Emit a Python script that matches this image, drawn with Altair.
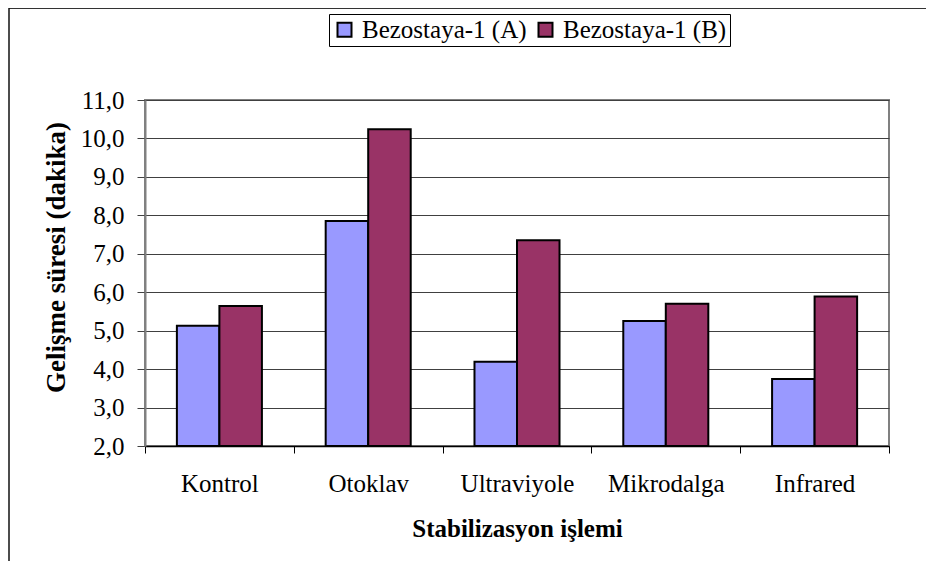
import altair as alt
import pandas as pd

categories = ["Kontrol", "Otoklav", "Ultraviyole", "Mikrodalga", "Infrared"]
series_names = ["Bezostaya-1 (A)", "Bezostaya-1 (B)"]
values_a = [5.13, 7.85, 4.19, 5.25, 3.74]
values_b = [5.64, 10.24, 7.35, 5.70, 5.89]
y_ticks = [2, 3, 4, 5, 6, 7, 8, 9, 10, 11]
colors = ["#9999FF", "#993366"]

rows = []
for cat, a, b in zip(categories, values_a, values_b):
    rows.append({"cat": cat, "series": series_names[0], "value": a})
    rows.append({"cat": cat, "series": series_names[1], "value": b})
df = pd.DataFrame(rows)

FONT = "Liberation Serif"
FS = 25

frame_data = alt.Data(values=[{}])
top_line = alt.Chart(frame_data).mark_rule(stroke="#333333", strokeWidth=2).encode(
    x=alt.value(-136), x2=alt.value(790), y=alt.value(-92)
)
left_line = alt.Chart(frame_data).mark_rule(stroke="#111111", strokeWidth=1.5).encode(
    x=alt.value(-136), y=alt.value(-92), y2=alt.value(480)
)

bars = alt.Chart(df).mark_bar(stroke="black", strokeWidth=2).encode(
    x=alt.X(
        "cat:N",
        sort=categories,
        scale=alt.Scale(paddingInner=0, paddingOuter=0),
        axis=alt.Axis(
            title="Stabilizasyon işlemi",
            labelAngle=0,
            tickBand="extent",
            tickSize=7,
            tickColor="black",
            domainColor="black",
            domainWidth=1.5,
            labelPadding=18,
            labelFont=FONT,
            labelFontSize=FS,
            labelColor="black",
            titleFont=FONT,
            titleFontSize=FS,
            titleFontWeight="bold",
            titleColor="black",
            titleBaseline="alphabetic",
            titleY=90,
            grid=False,
        ),
    ),
    xOffset=alt.XOffset(
        "series:N", sort=series_names,
        scale=alt.Scale(paddingInner=0, paddingOuter=0.75),
    ),
    y=alt.Y(
        "value:Q",
        scale=alt.Scale(domain=[2, 11], nice=False, zero=False),
        axis=alt.Axis(
            title="Gelişme süresi (dakika)",
            values=y_ticks,
            labelExpr="replace(format(datum.value, '.1f'), '.', ',')",
            tickSize=8,
            tickColor="#404040",
            domainColor="#808080",
            domainWidth=2,
            gridColor="#404040",
            gridWidth=1,
            labelPadding=13,
            labelFont=FONT,
            labelFontSize=FS,
            labelColor="black",
            titleFont=FONT,
            titleFontSize=27,
            titleFontWeight="bold",
            titleColor="black",
            titleAngle=270,
            titleBaseline="alphabetic",
            titleAlign="center",
            titleX=-81,
            titleY=157,
        ),
    ),
    y2=alt.datum(2),
    color=alt.Color(
        "series:N",
        sort=series_names,
        scale=alt.Scale(domain=series_names, range=colors),
        legend=alt.Legend(
            title=None,
            orient="none",
            legendX=184,
            legendY=-86,
            direction="horizontal",
            symbolType="square",
            symbolSize=196,
            symbolStrokeColor="black",
            symbolStrokeWidth=2,
            labelFont=FONT,
            labelFontSize=FS,
            labelColor="black",
            labelOffset=5,
            labelLimit=400,
            columnPadding=6,
            padding=3,
            strokeColor="black",
            fillColor="white",
        ),
    ),
)

chart = alt.layer(top_line, left_line, bars).properties(
    width=744,
    height=346,
    autosize=alt.AutoSizeParams(type="none"),
    padding={"left": 137, "top": 92, "right": 37, "bottom": 115},
).configure_view(
    stroke="#808080", strokeWidth=2
)

chart.save("out.html", embed_options={"renderer": "svg", "actions": False})
